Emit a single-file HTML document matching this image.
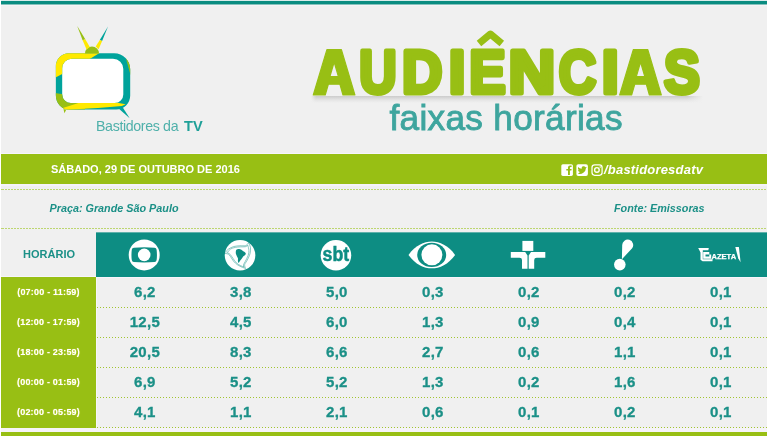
<!DOCTYPE html>
<html><head><meta charset="utf-8">
<style>
*{margin:0;padding:0;box-sizing:border-box}
html,body{width:768px;height:437px;overflow:hidden;background:#fff}
body{font-family:"Liberation Sans",sans-serif;position:relative}
#bg{position:absolute;left:1px;top:1px;width:766px;height:435px;background:#f0f0f0}
.abs{position:absolute}
#topbar{left:1px;top:0;width:766px;height:6px;background:linear-gradient(to bottom,#d9ecea 0,#d9ecea 1px,#0a8c80 1px,#0a8c80 4px,#86c2bd 4px,#86c2bd 5px,#f6f4f5 5px)}
#greenbar{left:1px;top:154px;width:766px;height:30px;background:#98bf14}
.dot{left:1px;width:766px;height:1px;background:repeating-linear-gradient(to right,#bdd670 0,#bdd670 2px,transparent 2px,transparent 3px);background-position:1px 0}
.rdot{left:97px;width:670px;height:1px;background:repeating-linear-gradient(to right,#a2c530 0,#a2c530 1.5px,transparent 1.5px,transparent 3px)}
.wl{background:#f7f5fb}
#thead{left:96px;top:232px;width:671px;height:45px;background:linear-gradient(to bottom,#5fb1ab 0,#5fb1ab 1px,#0d8d83 1px)}
#lcol{left:1px;top:277px;width:95px;height:151px;background:#98bf14}
#botgap{left:1px;top:428px;width:766px;height:4px;background:#f6f4f8}
#botbar{left:1px;top:432px;width:766px;height:4px;background:#98bf14}
.t{white-space:nowrap;line-height:1}
.num{font-weight:bold;font-size:15px;letter-spacing:.25px;color:#1b9087;width:96px;text-align:center;-webkit-text-stroke:.3px #1b9087;margin-left:.9px}
.hr{font-weight:bold;font-size:9px;letter-spacing:.2px;color:#fff;width:95px;left:1px;text-align:center;text-shadow:0 0 1px #e8e46a}
</style></head><body>
<div id="bg" class="abs"></div>
<div id="layer" class="abs" style="left:0;top:0;width:768px;height:437px;will-change:transform">
<div id="topbar" class="abs"></div>
<div id="greenbar" class="abs"></div>
<div class="abs dot" style="top:189px"></div>
<div class="abs dot" style="top:228px"></div>
<div id="thead" class="abs"></div>
<div id="lcol" class="abs"></div>
<div id="botgap" class="abs"></div>
<div id="botbar" class="abs"></div>

<div class="abs t" id="date" style="left:51px;top:164px;font-weight:bold;font-size:11px;color:#fff">SÁBADO, 29 DE OUTUBRO DE 2016</div>
<div class="abs t" id="social" style="left:604px;top:163px;font-weight:bold;font-style:italic;font-size:13px;letter-spacing:0.2px;color:#fff">/bastidoresdatv</div>
<div class="abs t" id="praca" style="left:49.5px;top:203px;font-weight:bold;font-style:italic;font-size:10.8px;color:#1b9087">Praça: Grande São Paulo</div>
<div class="abs t" id="fonte" style="left:614px;top:203px;font-weight:bold;font-style:italic;font-size:10.8px;color:#1b9087">Fonte: Emissoras</div>
<div class="abs t" id="horario" style="left:1.6px;width:95px;text-align:center;top:249.3px;font-weight:bold;font-size:11px;color:#1b9087">HORÁRIO</div>
<div class="abs" id="tshadow" style="left:311px;top:95.6px;width:392px;height:7px;background:linear-gradient(to right,#f0f0f0 0,rgba(240,240,240,0) 5px,rgba(240,240,240,0) 376px,#f0f0f0 100%),linear-gradient(to bottom,#cbcbcb 0,#d8d8d8 28%,#e6e6e6 60%,#f0f0f0 100%);filter:blur(.6px)"></div><!--TITLE--><svg class="abs" id="title" style="left:0;top:0" width="768" height="150" viewBox="0 0 768 150"><g font-family="Liberation Sans" font-weight="bold" font-size="61" fill="#98bf14" stroke="#98bf14" stroke-width="5" stroke-linejoin="round"><path fill-rule="evenodd" stroke-width="1.2" d="M313.3 95L326.9 49.7H341.4L354.9 95H343L339.9 84.2H328.4L325.2 95ZM334.15 62L329.9 76.6H338.4Z"/><text transform="translate(359.15 93.3) scale(0.848 1)">U</text><text transform="translate(401.97 93.3) scale(0.917 1)">D</text><text transform="translate(448.73 93.3) scale(0.985 1)">I</text><text transform="translate(469.31 93.3) scale(0.895 1)">E</text><text transform="translate(508.38 93.3) scale(1.062 1)">N</text><text transform="translate(558.70 93.3) scale(0.851 1)">C</text><text transform="translate(601.70 93.3) scale(1.000 1)">I</text><path fill-rule="evenodd" stroke-width="1.2" transform="translate(306.4 0)" d="M313.3 95L326.9 49.7H341.4L354.9 95H343L339.9 84.2H328.4L325.2 95ZM334.15 62L329.9 76.6H338.4Z"/><text transform="translate(663.88 93.3) scale(0.881 1)">S</text></g><path d="M479 43.5 L490.4 34 L501.8 43.5" fill="none" stroke="#98bf14" stroke-width="7" stroke-linejoin="round"/></svg><!--/TITLE-->
<div class="abs t" id="sub" style="left:389.5px;top:99.5px;font-size:35.2px;color:#3ea59e;letter-spacing:0.3px;-webkit-text-stroke:0.85px #3ea59e">faixas horárias</div>
<div class="abs t" id="brand" style="left:96px;top:118.7px;font-size:14.2px;letter-spacing:-0.35px;color:#4fb0aa">Bastidores da<b style="font-size:14px;letter-spacing:0;color:#1fa098;margin-left:5.5px;display:inline-block;transform:scaleX(1.04);transform-origin:0 50%">TV</b></div>
<div class="abs t hr" style="top:287.8px">(07:00 - 11:59)</div>
<div class="abs t num" style="left:96px;top:284.3px">6,2</div>
<div class="abs t num" style="left:192px;top:284.3px">3,8</div>
<div class="abs t num" style="left:288px;top:284.3px">5,0</div>
<div class="abs t num" style="left:384px;top:284.3px">0,3</div>
<div class="abs t num" style="left:480px;top:284.3px">0,2</div>
<div class="abs t num" style="left:576px;top:284.3px">0,2</div>
<div class="abs t num" style="left:672px;top:284.3px">0,1</div>
<div class="abs rdot" style="top:307px"></div>
<div class="abs t hr" style="top:317.8px">(12:00 - 17:59)</div>
<div class="abs t num" style="left:96px;top:314.3px">12,5</div>
<div class="abs t num" style="left:192px;top:314.3px">4,5</div>
<div class="abs t num" style="left:288px;top:314.3px">6,0</div>
<div class="abs t num" style="left:384px;top:314.3px">1,3</div>
<div class="abs t num" style="left:480px;top:314.3px">0,9</div>
<div class="abs t num" style="left:576px;top:314.3px">0,4</div>
<div class="abs t num" style="left:672px;top:314.3px">0,1</div>
<div class="abs rdot" style="top:337px"></div>
<div class="abs t hr" style="top:347.8px">(18:00 - 23:59)</div>
<div class="abs t num" style="left:96px;top:344.3px">20,5</div>
<div class="abs t num" style="left:192px;top:344.3px">8,3</div>
<div class="abs t num" style="left:288px;top:344.3px">6,6</div>
<div class="abs t num" style="left:384px;top:344.3px">2,7</div>
<div class="abs t num" style="left:480px;top:344.3px">0,6</div>
<div class="abs t num" style="left:576px;top:344.3px">1,1</div>
<div class="abs t num" style="left:672px;top:344.3px">0,1</div>
<div class="abs rdot" style="top:367px"></div>
<div class="abs t hr" style="top:377.8px">(00:00 - 01:59)</div>
<div class="abs t num" style="left:96px;top:374.3px">6,9</div>
<div class="abs t num" style="left:192px;top:374.3px">5,2</div>
<div class="abs t num" style="left:288px;top:374.3px">5,2</div>
<div class="abs t num" style="left:384px;top:374.3px">1,3</div>
<div class="abs t num" style="left:480px;top:374.3px">0,2</div>
<div class="abs t num" style="left:576px;top:374.3px">1,6</div>
<div class="abs t num" style="left:672px;top:374.3px">0,1</div>
<div class="abs rdot" style="top:397px"></div>
<div class="abs t hr" style="top:407.8px">(02:00 - 05:59)</div>
<div class="abs t num" style="left:96px;top:404.3px">4,1</div>
<div class="abs t num" style="left:192px;top:404.3px">1,1</div>
<div class="abs t num" style="left:288px;top:404.3px">2,1</div>
<div class="abs t num" style="left:384px;top:404.3px">0,6</div>
<div class="abs t num" style="left:480px;top:404.3px">0,1</div>
<div class="abs t num" style="left:576px;top:404.3px">0,2</div>
<div class="abs t num" style="left:672px;top:404.3px">0,1</div>
<div class="abs rdot" style="top:427px"></div>
<div class="abs wl" style="left:1px;top:153px;width:766px;height:1px"></div><div class="abs wl" style="left:1px;top:184px;width:766px;height:2px;background:#f5f3f8"></div>
<div class="abs wl" style="left:96px;top:277px;width:1px;height:150px"></div><div class="abs wl" style="left:97px;top:277px;width:670px;height:1px"></div><div class="abs wl" style="left:1px;top:276px;width:95px;height:1px"></div>
<!--LOGO--><svg class="abs" id="tvlogo" style="left:0;top:0" width="200" height="125" viewBox="0 0 200 125">
<defs><clipPath id="frm"><path clip-rule="evenodd" d="M68.85 53.2H114.2A16 16 0 0 1 130.2 69.2V95.5A14 14 0 0 1 116.2 109.5H68.35A12.5 14.5 0 0 1 55.85 95V66.2A13 13 0 0 1 68.85 53.2Z M71.7 58.8H113A10.3 10.3 0 0 1 123.3 69.1V94.5A8.6 8.6 0 0 1 114.7 103.1H70.8A8.6 8.6 0 0 1 62.2 94.5V68.3A9.5 9.5 0 0 1 71.7 58.8Z"/></clipPath></defs>
<path d="M71 56.5H113A13 13 0 0 1 126 69.5V95A11 11 0 0 1 115 106H70A10 10 0 0 1 60 96V67.5A11 11 0 0 1 71 56.5Z" fill="#fff"/>
<g clip-path="url(#frm)">
<rect x="50" y="50" width="90" height="65" fill="#00a39b"/>
<polygon points="50,40 105.7,49.2 84.4,62.3 70,70 50,80.2" fill="#ffe900"/>
<polygon points="50,92.3 68,95 85,100 85,115 50,115" fill="#98bf14"/>
<polygon points="126,58.4 136,50 136,78 130.4,74.5" fill="#98bf14"/>
<polygon points="62,108.2 78.5,103 100,100 116,102.6 125.6,104.3 121.9,106 98,107.9 79.5,109 64,110.4 60,110.4" fill="#ffe900"/>
</g>
<path d="M85 53.4A7 7 0 0 1 99 53.4Z" fill="#98bf14"/>
<polygon points="77.2,26.1 82.6,40.2 85.3,39.2" fill="#98bf14"/>
<polygon points="82.6,40.2 85.3,39.2 89.8,47 86.6,49.5" fill="#ffe900"/>
<polygon points="108,26.4 99.8,39.9 102.1,41.1" fill="#00a39b"/>
<polygon points="99.8,39.9 102.1,41.1 98.6,49.3 95.7,46.4" fill="#ffe900"/>
<polygon points="63.5,109 66.2,109.8 64.4,113.2" fill="#98bf14"/>
<polygon points="118.6,108.6 122.8,107.4 129.7,118.2" fill="#00a39b"/>
</svg><!--/LOGO-->
<!--ICO--><svg class="abs" id="icons" style="left:0;top:0" width="768" height="437" viewBox="0 0 768 437">
<!-- social -->
<rect x="561.3" y="164.2" width="11.6" height="11.7" rx="1.6" fill="#fff"/>
<path d="M568 175V170.5H566.3V168.9H568V167.6Q568 165.6 570 165.6H571.6V167.1H570.6Q569.9 167.1 569.9 167.8V168.9H571.6L571.4 170.5H569.9V175Z" fill="#98bf14"/>
<rect x="576.4" y="164.2" width="11.5" height="11.7" rx="1.9" fill="#fff"/>
<path d="M 577.88 173.68 Q 580.80 174.63 583.35 172.81 Q 585.91 170.76 585.91 168.21 L 586.78 166.90 L 585.61 167.26 Q 584.59 165.73 582.70 166.32 Q 581.38 167.04 581.67 168.65 Q 579.49 168.65 578.10 167.04 Q 577.37 168.94 578.90 170.18 L 577.81 169.96 Q 578.10 171.57 579.78 171.93 Q 579.34 172.81 577.88 173.68 Z" fill="#98bf14"/>
<rect x="592" y="164.8" width="10.1" height="10.5" rx="2.7" fill="none" stroke="#fff" stroke-width="1.25"/>
<circle cx="596.9" cy="169.9" r="2.3" fill="none" stroke="#fff" stroke-width="1.4"/>
<circle cx="600.2" cy="166.9" r=".75" fill="#fff"/>
<!-- globo -->
<circle cx="144.2" cy="254.9" r="15.5" fill="#fff"/>
<path d="M133.9 247.7Q144.2 246.9 154.5 247.7Q156.4 247.8 156.6 249.7Q157.3 254.9 156.6 260.1Q156.4 262 154.5 262.1Q144.2 262.9 133.9 262.1Q132 262 131.8 260.1Q131.1 254.9 131.8 249.7Q132 247.8 133.9 247.7Z" fill="#0d8d83"/>
<circle cx="144.2" cy="254.9" r="6.3" fill="#fff"/>
<!-- record -->
<circle cx="240.05" cy="255.2" r="15.3" fill="#fff"/>
<g fill="none" stroke="#0d8d83" stroke-width=".6" stroke-linecap="round" opacity=".8"><path d="M224.95 252.62C225.50 252.06 226.77 250.29 228.22 249.28C229.67 248.26 231.72 247.14 233.66 246.55C235.61 245.97 237.94 245.92 239.88 245.78C241.83 245.63 244.03 245.98 245.33 245.70C246.62 245.41 247.13 244.57 247.66 244.07C248.19 243.56 248.37 242.90 248.52 242.67"/><path d="M226.82 252.93C227.44 252.28 229.15 249.96 230.55 249.04C231.95 248.12 233.60 247.77 235.22 247.41C236.84 247.05 238.59 246.98 240.27 246.86C241.96 246.75 244.07 246.96 245.33 246.71C246.59 246.46 247.40 245.61 247.82 245.39"/><path d="M248.83 243.05C249.10 243.77 250.25 245.58 250.46 247.33C250.67 249.08 250.64 251.35 250.07 253.55C249.50 255.76 247.93 258.74 247.04 260.55C246.14 262.36 244.99 263.19 244.71 264.44C244.42 265.68 245.22 267.42 245.33 268.02"/><path d="M247.97 245.78C248.13 246.55 248.85 248.89 248.91 250.44C248.96 252.00 248.88 253.29 248.28 255.11C247.69 256.92 246.13 259.70 245.33 261.33C244.52 262.96 243.70 263.97 243.46 264.91C243.23 265.84 243.85 266.59 243.93 266.93"/><path d="M224.95 253.55C225.50 253.63 227.29 253.50 228.22 254.02C229.15 254.54 229.65 255.44 230.55 256.66C231.46 257.88 232.50 259.97 233.66 261.33C234.83 262.69 236.13 263.84 237.55 264.83C238.98 265.81 240.92 266.65 242.22 267.24C243.51 267.82 244.81 268.15 245.33 268.33"/><path d="M227.83 252.93C228.23 253.19 229.40 253.60 230.24 254.49C231.09 255.37 231.86 256.82 232.89 258.22C233.91 259.62 235.09 261.64 236.39 262.88C237.68 264.13 239.41 265.02 240.66 265.68C241.92 266.34 243.38 266.65 243.93 266.85"/></g>
<path d="M236.39 249.66C236.72 249.39 238.13 248.89 238.72 248.89C239.31 248.89 240.85 249.35 241.44 249.66C242.03 249.98 243.27 251.20 243.77 251.61C244.27 252.02 245.54 252.80 245.72 253.16C245.90 253.53 245.65 254.31 245.33 254.72C245.01 255.13 243.40 256.21 243.00 256.66C242.59 257.12 242.15 258.15 241.83 258.61C241.51 259.06 240.64 260.05 240.27 260.55C239.91 261.05 238.99 262.79 238.72 262.88C238.45 262.97 238.03 261.87 237.94 261.33C237.85 260.78 238.08 258.85 237.94 258.22C237.80 257.58 237.02 256.43 236.77 255.88C236.53 255.34 235.95 254.10 235.84 253.55C235.73 253.01 235.78 251.67 235.84 251.22C235.90 250.77 236.05 249.94 236.39 249.66Z" fill="#0d8d83"/>
<!-- sbt -->
<circle cx="335.95" cy="255.2" r="15.3" fill="#fff"/>
<text x="322.6" y="260.5" font-family="Liberation Sans" font-weight="bold" font-size="19.5" fill="#0d8d83" stroke="#0d8d83" stroke-width=".5" textLength="26.6" lengthAdjust="spacingAndGlyphs">sbt</text>
<!-- band -->
<path d="M408.5 254.9C415.3 245.4 424 241.5 431.8 241.5S448.3 245.4 455.1 254.9C448.3 264.4 439.6 268.3 431.8 268.3S415.3 264.4 408.5 254.9Z" fill="#fff"/>
<ellipse cx="431.7" cy="254.9" rx="14.5" ry="12.2" fill="#0d8d83"/>
<circle cx="431.9" cy="254.8" r="10.5" fill="#fff"/>
<!-- cultura -->
<rect x="522.4" y="240.9" width="10.9" height="10" fill="#fff"/>
<path d="M510.8 252H525.2L527.5 255.4V268.8H522V260Q522 257.8 519.5 257.8H510.8Z" fill="#fff"/>
<path d="M545.3 252H531L528.7 255.4V268.8H534.2V260Q534.2 257.8 536.7 257.8H545.3Z" fill="#fff"/>
<!-- redetv -->
<circle cx="619.8" cy="264.6" r="5.8" fill="#fff"/>
<path d="M621.9 259.2L622.2 245.1A5.5 5.5 0 1 1 632.15 248.33Z" fill="#fff"/>
<!-- gazeta -->
<path d="M698.2 248H708.8L708.3 250.2H702.8V259.3H712.5V261.2H702.6L700.5 259.8V252.5Z" fill="#fff"/>
<path fill-rule="evenodd" d="M703.2 252.1H709.3V254.4H711.2V258.8H703.2ZM705.5 254.4H709.3V256.6H705.5Z" fill="#fff"/>
<text x="711.5" y="258.7" font-family="Liberation Sans" font-weight="bold" font-size="7.3" fill="#fff" stroke="#fff" stroke-width=".25" textLength="24.6" lengthAdjust="spacingAndGlyphs">AZETA</text>
<polygon points="735.3,246.9 738.9,246.9 740.6,262.3 738.2,258.3" fill="#fff"/>
</svg><!--/ICO-->
</div>
</body></html>
